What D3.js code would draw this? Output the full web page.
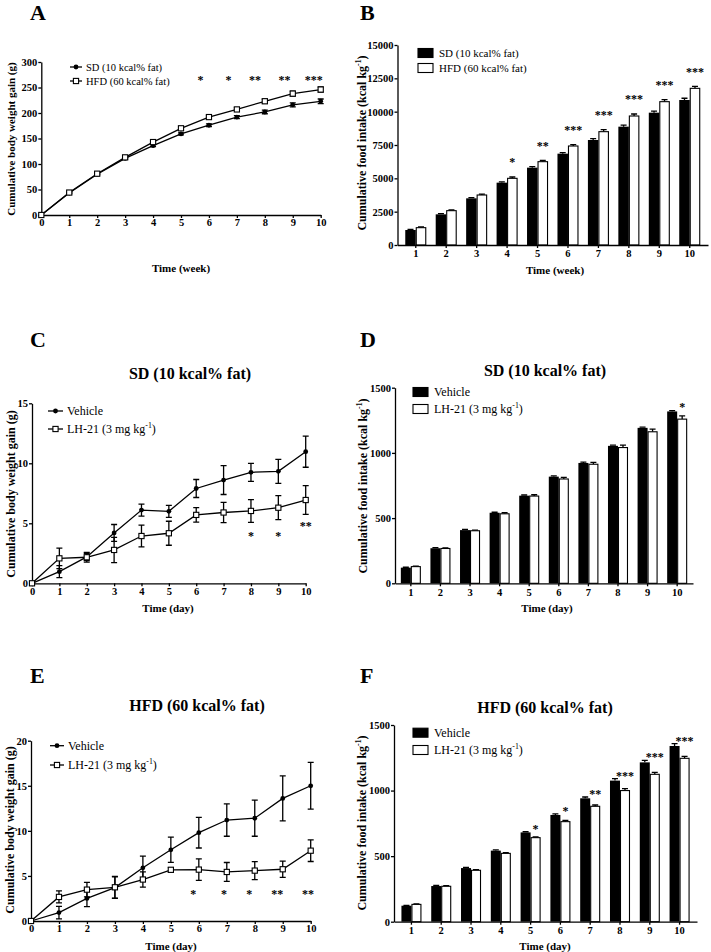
<!DOCTYPE html>
<html lang="en">
<head>
<meta charset="utf-8">
<title>Body weight gain and food intake</title>
<script src="https://cdn.jsdelivr.net/npm/d3@7"></script>
<style>
  body { margin: 0; background: #fff; }
</style>
</head>
<body>
<script>

// -- Data -- //

const timePts = [0, 1, 2, 3, 4, 5, 6, 7, 8, 9, 10];
const timeCats = ["1", "2", "3", "4", "5", "6", "7", "8", "9", "10"];

// A: cumulative body weight gain (g), weeks
const aSD = [0, 43, 80, 111, 136, 159, 176, 192, 202, 216, 223];
const aSDErr = [0, 1.5, 1.5, 2, 2, 2, 2.5, 3, 3.5, 4, 4.5];
const aHFD = [0, 44, 81, 113, 143, 170, 192, 207, 223, 238, 246];
const aHFDErr = [0, 1.5, 2, 2, 3, 3, 3, 3.5, 4, 5, 5];
const aTicks = [0, 50, 100, 150, 200, 250, 300];
const aStarX = [5.7, 6.7, 7.65, 8.7, 9.75];
const aStarLab = ["*", "*", "**", "**", "***"];
const aStarY = [268, 268, 268, 268, 268];

// B: cumulative food intake (kcal kg-1), weeks
const bSD = [1125, 2300, 3500, 4675, 5800, 6850, 7875, 8875, 9925, 10875];
const bSDErr = [40, 50, 60, 60, 80, 80, 100, 120, 120, 130];
const bHFD = [1300, 2575, 3750, 5000, 6250, 7425, 8500, 9675, 10750, 11750];
const bHFDErr = [50, 50, 70, 100, 100, 100, 150, 150, 150, 150];
const bTicks = [0, 2500, 5000, 7500, 10000, 12500, 15000];
const bStars = ["", "", "", "*", "**", "***", "***", "***", "***", "***"];

// C: SD diet, body weight gain (g), days
const cVeh = [0, 0.97, 2.2, 4.2, 6.1, 6.0, 7.9, 8.6, 9.25, 9.33, 10.97];
const cVehErr = [0, 0.5, 0.3, 0.7, 0.5, 0.5, 0.75, 1.2, 0.75, 1.0, 1.3];
const cLH = [0, 2.08, 2.17, 2.78, 3.94, 4.17, 5.7, 5.9, 6.03, 6.3, 6.94];
const cLHErr = [0, 0.85, 0.4, 1.05, 0.9, 1.0, 0.6, 0.85, 0.95, 1.0, 1.2];
const cTicks = [0, 5, 10, 15];
const cStarX = [8, 9, 10];
const cStarLab = ["*", "*", "**"];
const cStarY = [4.1, 4.1, 4.9];

// D: SD diet, food intake (kcal kg-1), days
const dVeh = [120, 269, 408, 541, 672, 818, 923, 1054, 1192, 1318];
const dVehErr = [3, 4, 5, 4, 5, 6, 6, 6, 6, 6];
const dLH = [128, 267, 403, 533, 669, 800, 913, 1041, 1162, 1259];
const dLHErr = [3, 4, 5, 8, 10, 12, 15, 18, 20, 25];
const dTicks = [0, 500, 1000, 1500];
const dStars = ["", "", "", "", "", "", "", "", "", "*"];

// E: HFD diet, body weight gain (g), days
const eVeh = [0, 0.93, 2.5, 3.7, 5.9, 7.9, 9.8, 11.2, 11.4, 13.6, 15.0];
const eVehErr = [0, 0.7, 0.9, 1.2, 1.3, 1.4, 1.7, 1.8, 2.0, 2.5, 2.6];
const eLH = [0, 2.67, 3.48, 3.74, 4.6, 5.68, 5.7, 5.44, 5.59, 5.74, 7.8];
const eLHErr = [0, 0.67, 0.8, 1.2, 0.85, 0.25, 1.2, 1.05, 1.0, 0.9, 1.2];
const eTicks = [0, 5, 10, 15, 20];
const eStarX = [5.8, 6.9, 7.8, 8.8, 9.9];
const eStarLab = ["*", "*", "*", "**", "**"];
const eStarY = [3.1, 3.1, 3.1, 3.1, 3.1];

// F: HFD diet, food intake (kcal kg-1), days
const fVeh = [122, 272, 409, 542, 681, 814, 941, 1076, 1215, 1340];
const fVehErr = [3, 4, 5, 6, 5, 8, 10, 15, 15, 18];
const fLH = [132, 270, 392, 521, 641, 763, 880, 1000, 1124, 1246];
const fLHErr = [3, 4, 5, 5, 5, 10, 10, 15, 15, 15];
const fTicks = [0, 500, 1000, 1500];
const fStars = ["", "", "", "", "*", "*", "**", "***", "***", "***"];

// -- Setting -- //

const serif = '"Liberation Serif", "Times New Roman", Times, serif';
const lw = 1.3;
const fmt = d3.format("d");

const svg = d3.select("body")
    .append("svg")
    .attr("width", 711)
    .attr("height", 952)
    .attr("font-family", serif);

// text with optional superscript parts, e.g. kg-1
let richText = function(sel, parts, size) {
    parts.forEach(function(p, i) {
        let t = sel.append("tspan").text(p.t);
        if (p.sup) {
            t.attr("font-size", size * 0.65).attr("dy", -size * 0.42);
        } else if (i > 0 && parts[i - 1].sup) {
            t.attr("dy", size * 0.42);
        }
    });
    return sel;
};

let styleAxis = function(g) {
    g.attr("font-family", serif).attr("font-size", 10.5).attr("font-weight", "bold");
    g.select(".domain").attr("stroke-width", lw);
    g.selectAll(".tick line").attr("stroke-width", lw);
    g.selectAll(".tick text").attr("fill", "#000");
};

let starText = function(g, x, y, lab) {
    g.append("text")
        .attr("x", x).attr("y", y)
        .attr("dy", "0.45em")
        .attr("text-anchor", "middle")
        .attr("font-size", 12).attr("font-weight", "bold")
        .attr("fill", "#000")
        .text(lab);
};

let panelText = function(o) {
    // panel letter
    svg.append("text")
        .attr("x", o.letter[1]).attr("y", o.letter[2])
        .attr("font-size", 22).attr("font-weight", "bold")
        .text(o.letter[0]);
    if (o.title) {
        svg.append("text")
            .attr("x", o.title[1]).attr("y", o.title[2])
            .attr("text-anchor", "middle")
            .attr("font-size", 16).attr("font-weight", "bold")
            .text(o.title[0]);
    }
    // x axis title
    svg.append("text")
        .attr("x", o.xLab[1]).attr("y", o.xLab[2])
        .attr("text-anchor", "middle")
        .attr("font-size", 11).attr("font-weight", "bold")
        .text(o.xLab[0]);
    // y axis title
    let yt = svg.append("text")
        .attr("transform", `translate(${o.yLab.x},${o.yLab.y}) rotate(-90)`)
        .attr("dy", "0.35em")
        .attr("text-anchor", "middle")
        .attr("font-size", o.yLab.size).attr("font-weight", "bold");
    richText(yt, o.yLab.parts, o.yLab.size);
};

// -- Line panels -- //

let markerAt = function(g, kind, cx, cy) {
    if (kind === "circle") {
        g.append("circle").attr("cx", cx).attr("cy", cy).attr("r", 2.4).attr("fill", "#000");
    } else {
        g.append("rect").attr("x", cx - 2.6).attr("y", cy - 2.6)
            .attr("width", 5.2).attr("height", 5.2)
            .attr("fill", "#fff").attr("stroke", "#000").attr("stroke-width", 1.1);
    }
};

let linePanel = function(o) {
    let x = d3.scaleLinear().domain([0, 10]).range(o.xr);
    let y = d3.scaleLinear().domain([0, o.yMax]).range(o.yr);
    let g = svg.append("g");

    g.append("g")
        .attr("transform", `translate(0,${o.yr[0]})`)
        .call(d3.axisBottom(x).tickValues(timePts).tickFormat(fmt).tickSize(3).tickSizeOuter(0).tickPadding(1))
        .call(styleAxis);
    g.append("g")
        .attr("transform", `translate(${o.xr[0]},0)`)
        .call(d3.axisLeft(y).tickValues(o.yTicks).tickFormat(fmt).tickSize(3).tickSizeOuter(0).tickPadding(1))
        .call(styleAxis);

    let line = d3.line().x((d, i) => x(timePts[i])).y(d => y(d));

    o.series.forEach(function(s) {
        g.append("path")
            .attr("d", line(s.v))
            .attr("fill", "none").attr("stroke", "#000").attr("stroke-width", lw);
        // error bars
        s.v.forEach(function(v, i) {
            let e = s.e[i];
            if (!e) return;
            let cx = x(timePts[i]);
            let y1 = y(v - e), y2 = y(v + e);
            g.append("path")
                .attr("d", `M${cx},${y1}V${y2}M${cx - 3},${y1}H${cx + 3}M${cx - 3},${y2}H${cx + 3}`)
                .attr("fill", "none").attr("stroke", "#000").attr("stroke-width", lw);
        });
    });
    o.series.forEach(function(s) {
        s.v.forEach((v, i) => markerAt(g, s.marker, x(timePts[i]), y(v)));
    });

    // legend
    o.series.forEach(function(s, i) {
        let ly = o.legend.y[i];
        let lx = o.legend.x;
        g.append("line")
            .attr("x1", lx).attr("x2", lx + o.legend.len)
            .attr("y1", ly).attr("y2", ly)
            .attr("stroke", "#000").attr("stroke-width", lw);
        markerAt(g, s.marker, lx + o.legend.len / 2, ly);
        let t = g.append("text")
            .attr("x", lx + o.legend.len + 4).attr("y", ly).attr("dy", "0.35em")
            .attr("font-size", o.legend.size);
        richText(t, s.label, o.legend.size);
    });

    // significance stars
    o.stars.x.forEach(function(sx, i) {
        starText(g, x(sx), y(o.stars.y[i]), o.stars.lab[i]);
    });

    panelText(o);
};

// -- Bar panels -- //

let barPanel = function(o) {
    let x = d3.scaleBand().domain(timeCats).range(o.xr).paddingInner(0).paddingOuter(o.po);
    let y = d3.scaleLinear().domain([0, o.yMax]).range(o.yr);
    let g = svg.append("g");
    let bw = o.barW;

    o.series.forEach(function(s, k) {
        s.v.forEach(function(v, i) {
            let c = x(timeCats[i]) + x.bandwidth() / 2;
            let bx = k === 0 ? c - bw : c;
            let ex = c + (k === 0 ? -bw / 2 : bw / 2);
            let top = y(v + s.e[i]);
            g.append("path")
                .attr("d", `M${ex},${y(v)}V${top}M${ex - 3},${top}h6`)
                .attr("fill", "none").attr("stroke", "#000").attr("stroke-width", lw);
            g.append("rect")
                .attr("x", bx + (k === 0 ? 0 : 0.5)).attr("y", y(v))
                .attr("width", bw - (k === 0 ? 0 : 1)).attr("height", y(0) - y(v))
                .attr("fill", k === 0 ? "#000" : "#fff")
                .attr("stroke", "#000").attr("stroke-width", k === 0 ? 0 : 1.1);
        });
    });

    // stars above the treated bar, clear of both bars of the group
    let s1 = o.series[0], s2 = o.series[1];
    o.stars.forEach(function(lab, i) {
        if (!lab) return;
        let c = x(timeCats[i]) + x.bandwidth() / 2 + bw / 2;
        let top = o.overBoth
            ? Math.min(y(s1.v[i] + s1.e[i]), y(s2.v[i] + s2.e[i]))
            : y(s2.v[i] + s2.e[i]);
        starText(g, c, top - o.starGap, lab);
    });

    g.append("g")
        .attr("transform", `translate(0,${o.yr[0]})`)
        .call(d3.axisBottom(x).tickSize(3).tickSizeOuter(0).tickPadding(2))
        .call(styleAxis);
    g.append("g")
        .attr("transform", `translate(${o.xr[0]},0)`)
        .call(d3.axisLeft(y).tickValues(o.yTicks).tickFormat(fmt).tickSize(3).tickSizeOuter(0).tickPadding(1))
        .call(styleAxis);

    // legend
    o.series.forEach(function(s, i) {
        let ly = o.legend.y[i];
        g.append("rect")
            .attr("x", o.legend.x).attr("y", ly - 4.5)
            .attr("width", 15).attr("height", 9)
            .attr("fill", i === 0 ? "#000" : "#fff")
            .attr("stroke", "#000").attr("stroke-width", 1.1);
        let t = g.append("text")
            .attr("x", o.legend.x + 21).attr("y", ly).attr("dy", "0.35em")
            .attr("font-size", o.legend.size);
        richText(t, s.label, o.legend.size);
    });

    panelText(o);
};

// -- Visualisation -- //

const sdLab = [{t: "SD (10 kcal% fat)"}];
const hfdLab = [{t: "HFD (60 kcal% fat)"}];
const vehLab = [{t: "Vehicle"}];
const lhLab = [{t: "LH-21 (3 mg kg"}, {t: "-1", sup: true}, {t: ")"}];
const bwLab = [{t: "Cumulative body weight gain (g)"}];
const fiLab = [{t: "Cumulative food intake (kcal kg"}, {t: "-1", sup: true}, {t: ")"}];

linePanel({
    letter: ["A", 30, 20],
    xr: [41.3, 320.7], yr: [215, 62], yMax: 300, yTicks: aTicks,
    series: [
        {v: aSD, e: aSDErr, marker: "circle", label: sdLab},
        {v: aHFD, e: aHFDErr, marker: "square", label: hfdLab}
    ],
    legend: {x: 70, y: [67, 81], len: 12, size: 10.5},
    stars: {x: aStarX, lab: aStarLab, y: aStarY},
    xLab: ["Time (week)", 181, 272],
    yLab: {x: 11, y: 139, size: 11, parts: bwLab}
});

barPanel({
    letter: ["B", 360, 20],
    xr: [397.5, 708], po: 0.1, yr: [245, 45], yMax: 15000, yTicks: bTicks, barW: 10.5,
    series: [
        {v: bSD, e: bSDErr, label: sdLab},
        {v: bHFD, e: bHFDErr, label: hfdLab}
    ],
    stars: bStars, starGap: 16, overBoth: false,
    legend: {x: 418, y: [53, 68], size: 11},
    xLab: ["Time (week)", 555, 274],
    yLab: {x: 362, y: 143, size: 12, parts: fiLab}
});

linePanel({
    letter: ["C", 30, 347],
    title: ["SD (10 kcal% fat)", 190, 379],
    xr: [32, 305.7], yr: [583.3, 403.3], yMax: 15, yTicks: cTicks,
    series: [
        {v: cVeh, e: cVehErr, marker: "circle", label: vehLab},
        {v: cLH, e: cLHErr, marker: "square", label: lhLab}
    ],
    legend: {x: 48, y: [411, 429], len: 15, size: 12},
    stars: {x: cStarX, lab: cStarLab, y: cStarY},
    xLab: ["Time (day)", 168, 612],
    yLab: {x: 11, y: 494, size: 12, parts: bwLab}
});

barPanel({
    letter: ["D", 360, 347],
    title: ["SD (10 kcal% fat)", 545, 376],
    xr: [395, 693], po: 0.035, yr: [583.3, 387.7], yMax: 1500, yTicks: dTicks, barW: 10,
    series: [
        {v: dVeh, e: dVehErr, label: vehLab},
        {v: dLH, e: dLHErr, label: lhLab}
    ],
    stars: dStars, starGap: 5, overBoth: true,
    legend: {x: 413, y: [392, 409], size: 12},
    xLab: ["Time (day)", 547, 612],
    yLab: {x: 363, y: 486, size: 12, parts: fiLab}
});

linePanel({
    letter: ["E", 30, 683],
    title: ["HFD (60 kcal% fat)", 197, 711],
    xr: [31, 310.7], yr: [921, 740.7], yMax: 20, yTicks: eTicks,
    series: [
        {v: eVeh, e: eVehErr, marker: "circle", label: vehLab},
        {v: eLH, e: eLHErr, marker: "square", label: lhLab}
    ],
    legend: {x: 50, y: [745.7, 765], len: 14, size: 12},
    stars: {x: eStarX, lab: eStarLab, y: eStarY},
    xLab: ["Time (day)", 171, 950],
    yLab: {x: 10, y: 830, size: 12, parts: bwLab}
});

barPanel({
    letter: ["F", 360, 683],
    title: ["HFD (60 kcal% fat)", 545, 713],
    xr: [394, 697], po: 0.085, yr: [921.7, 725], yMax: 1500, yTicks: fTicks, barW: 10,
    series: [
        {v: fVeh, e: fVehErr, label: vehLab},
        {v: fLH, e: fLHErr, label: lhLab}
    ],
    stars: fStars, starGap: 4.5, overBoth: true,
    legend: {x: 413, y: [732.7, 750], size: 12},
    xLab: ["Time (day)", 545, 950],
    yLab: {x: 362, y: 823, size: 12, parts: fiLab}
});

</script>
</body>
</html>
